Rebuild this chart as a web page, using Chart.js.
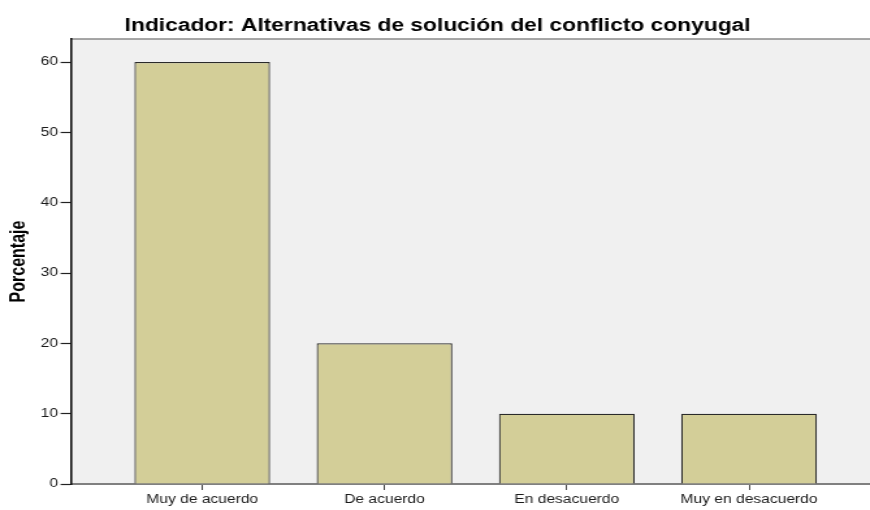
<!DOCTYPE html>
<html lang="es">
<head>
<meta charset="utf-8">
<title>Alternativas de solución del conflicto conyugal</title>
<script src="https://cdn.jsdelivr.net/npm/chart.js@4"></script>
<style>
  html, body { margin: 0; padding: 0; background: #fff; overflow: hidden; }
  /* el gráfico original (SPSS) sale estirado en horizontal y cortado a la derecha */
  #marco { width: 673px; height: 510px; transform: scaleX(1.3004); transform-origin: 0 0; }
</style>
</head>
<body>
<div id="marco"><canvas id="graficoBarras"></canvas></div>
<script>
// datos
const categorias = ['Muy de acuerdo', 'De acuerdo', 'En desacuerdo', 'Muy en desacuerdo'];
const porcentajes = [60, 20, 10, 10];
const marcasY = [0, 10, 20, 30, 40, 50, 60];

const fuente = "'Liberation Sans', Arial, sans-serif";

// fondo gris del área del gráfico + borde superior
const fondoArea = {
    id: 'fondoArea',
    beforeDraw(chart) {
        const { ctx, chartArea: a } = chart;
        ctx.save();
        ctx.fillStyle = '#f0f0f0';
        ctx.fillRect(a.left, a.top, a.right - a.left, a.bottom - a.top);
        ctx.strokeStyle = '#8a8a8a';
        ctx.lineWidth = 1.6;
        ctx.beginPath();
        ctx.moveTo(a.left, a.top);
        ctx.lineTo(a.right, a.top);
        ctx.stroke();
        ctx.restore();
    }
};

const ctx = document.getElementById('graficoBarras').getContext('2d');

const grafico = new Chart(ctx, {
    type: 'bar',
    data: {
        datasets: [{
            label: 'Porcentaje',
            data: porcentajes.map((v, i) => ({ x: i, y: v })),
            backgroundColor: '#d3ce98',
            borderColor: '#2a2a2a',
            borderWidth: 1.2,
            categoryPercentage: 1,
            barPercentage: 0.744
        }]
    },
    options: {
        responsive: true,
        maintainAspectRatio: false,
        animation: false,
        layout: { padding: 0 },
        plugins: {
            legend: { display: false },
            tooltip: { enabled: false },
            title: {
                display: true,
                text: 'Indicador: Alternativas de solución del conflicto conyugal',
                color: '#000',
                font: { family: fuente, size: 17.5, weight: 'bold', lineHeight: 1.2 },
                padding: { top: 15.5, bottom: 2.5 }
            }
        },
        scales: {
            x: {
                type: 'linear',
                min: -0.72,
                max: 3.692,
                offset: false,
                grid: {
                    offset: false,
                    drawOnChartArea: false,
                    tickLength: 6,
                    tickColor: '#444',
                    tickWidth: 1
                },
                border: { display: true, color: '#808080', width: 2 },
                ticks: {
                    stepSize: 1,
                    includeBounds: false,
                    autoSkip: false,
                    maxRotation: 0,
                    padding: 4,
                    color: '#1a1a1a',
                    font: { family: fuente, size: 12, lineHeight: 1 },
                    callback: (v) => categorias[v] ?? ''
                }
            },
            y: {
                min: 0,
                max: 63.28,
                afterFit(scale) { scale.width = 54.6; },
                grid: {
                    drawOnChartArea: false,
                    tickLength: 8,
                    tickColor: '#222',
                    tickWidth: 1.2
                },
                border: { display: true, color: '#111', width: 1.6 },
                afterBuildTicks(scale) { scale.ticks = marcasY.map(v => ({ value: v })); },
                ticks: {
                    padding: 2,
                    color: '#1a1a1a',
                    font: { family: fuente, size: 12 }
                },
                title: {
                    display: true,
                    text: 'Porcentaje',
                    color: '#000',
                    font: { family: fuente, size: 16, weight: 'bold', lineHeight: 1.2 },
                    padding: { top: 4.5, bottom: 0 }
                }
            }
        }
    },
    plugins: [fondoArea]
});
</script>
</body>
</html>
